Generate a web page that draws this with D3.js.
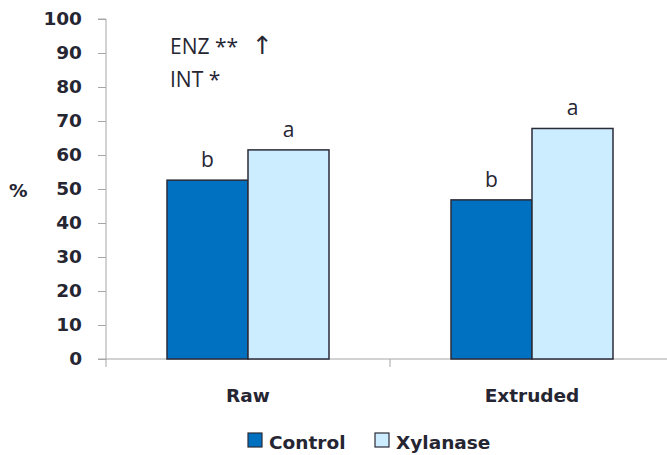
<!DOCTYPE html>
<html><head><meta charset="utf-8">
<script src="https://cdn.jsdelivr.net/npm/d3@7"></script>
<style>body{margin:0;background:#fff}text{fill:#262633}
.b{font-family:"DejaVu Sans",sans-serif;font-weight:bold;font-size:18.5px}
.r{font-family:"Open Sans","DejaVu Sans",sans-serif;font-size:21px}
.ar{font-family:"DejaVu Sans",sans-serif;font-size:25px}</style>
</head><body><svg id="c" width="667" height="455"></svg>
<script>
const categories = ["Raw", "Extruded"];
const seriesNames = ["Control", "Xylanase"];
const controlValues = [52.6, 46.8];
const xylanaseValues = [61.5, 67.8];
const controlLetters = ["b", "b"];
const xylanaseLetters = ["a", "a"];
const yTicks = [0,10,20,30,40,50,60,70,80,90,100];
const colors = ["#0070C0", "#CCECFF"];

const svg = d3.select("#c");
const x0 = 106, bandW = 284;
const x = d3.scaleBand().domain(categories).range([x0, x0 + bandW*2]);
const y = d3.scaleLinear().domain([0,100]).range([359, 19]);

// y axis
const ya = svg.append("g").attr("transform", `translate(${x0},0)`)
  .call(d3.axisLeft(y).tickValues(yTicks).tickSize(8).tickPadding(16));
ya.attr("font-family",null).attr("font-size",null);
ya.select(".domain").attr("stroke","#a6a6a6").attr("d", `M-8,${y(100)}H0V${y(0)}`);
ya.selectAll(".tick line").attr("stroke","#a6a6a6");
ya.selectAll(".tick text").attr("class","b").attr("fill","#262633");

// x axis
const xa = svg.append("g").attr("transform", `translate(0,${y(0)})`);
xa.append("line").attr("x1", x0-8).attr("x2", 667).attr("stroke","#a6a6a6");
[x0, x0+bandW, x0+bandW*2].forEach(v => xa.append("line").attr("x1",v).attr("x2",v).attr("y1",0).attr("y2",8).attr("stroke","#a6a6a6"));
categories.forEach(c => xa.append("text").attr("class","b").attr("x", x(c)+bandW/2).attr("y", 43)
  .attr("text-anchor","middle").text(c));

// bars
const data = [];
categories.forEach((c,i) => {
  data.push({c, s:0, v:controlValues[i], l:controlLetters[i]});
  data.push({c, s:1, v:xylanaseValues[i], l:xylanaseLetters[i]});
});
const bw = 81;
const bx = d => x(d.c) + bandW/2 - bw + d.s*bw;
svg.append("g").selectAll("rect").data(data).join("rect")
  .attr("x", bx).attr("width", bw)
  .attr("y", d => y(d.v)).attr("height", d => y(0)-y(d.v))
  .attr("fill", d => colors[d.s]).attr("stroke","#2b2b38").attr("stroke-width",1.5);
svg.append("g").selectAll("text").data(data).join("text").attr("class","r")
  .attr("x", d => bx(d)+bw/2).attr("y", d => y(d.v)-13)
  .attr("text-anchor","middle").text(d => d.l);

// annotations
svg.append("text").attr("class","r").attr("x",170).attr("y",54).text("ENZ **");
svg.append("text").attr("class","ar").attr("x",252).attr("y",54).text("\u2191");
svg.append("text").attr("class","r").attr("x",170).attr("y",87).text("INT *");
svg.append("text").attr("class","b").attr("x",9).attr("y",197).text("%");

// legend
const leg = [{n:"Control", x:248, tx:269},{n:"Xylanase", x:375, tx:396}];
leg.forEach((l,i) => {
  svg.append("rect").attr("x", l.x).attr("y", 433).attr("width",14).attr("height",14)
    .attr("fill", colors[i]).attr("stroke","#2b2b38").attr("stroke-width",1.2);
  svg.append("text").attr("class","b").attr("x", l.tx).attr("y", 449).text(l.n);
});
</script></body></html>
